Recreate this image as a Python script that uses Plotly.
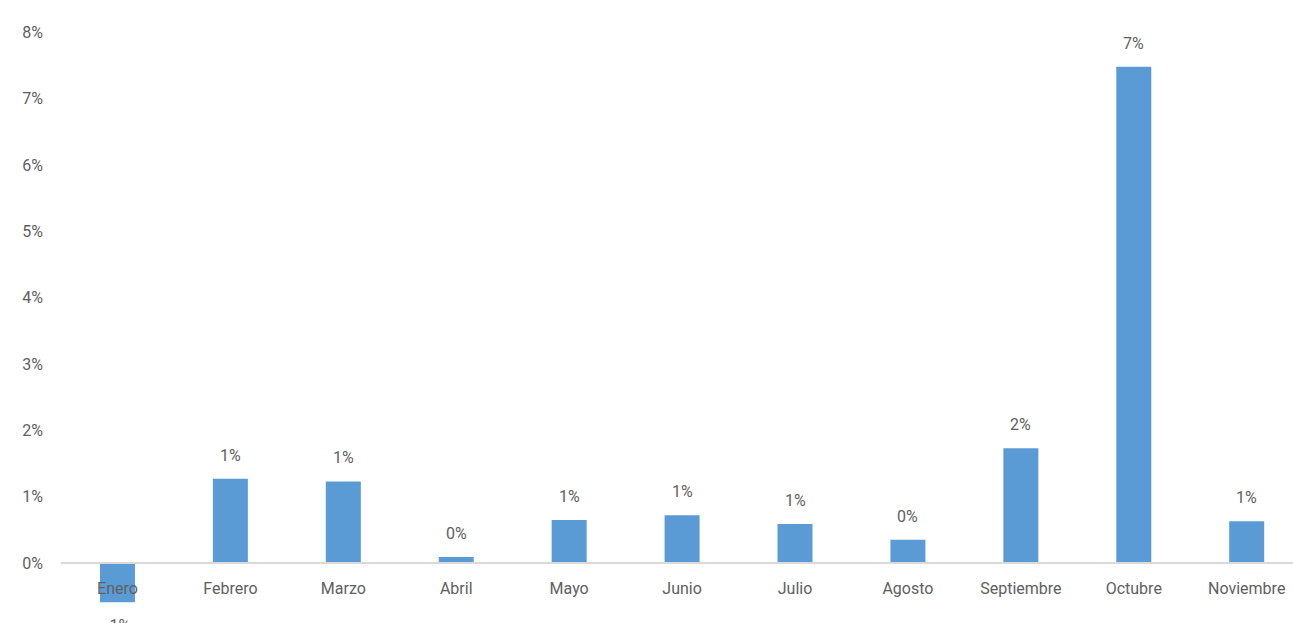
import plotly.graph_objects as go

months = ["Enero", "Febrero", "Marzo", "Abril", "Mayo", "Junio", "Julio",
          "Agosto", "Septiembre", "Octubre", "Noviembre"]
values = [-0.0059, 0.0127, 0.0123, 0.0009, 0.0065, 0.0072, 0.0059,
          0.0035, 0.0173, 0.0748, 0.0063]
y_ticks = [-0.01, 0.0, 0.01, 0.02, 0.03, 0.04, 0.05, 0.06, 0.07, 0.08]

BAR = "#5B9BD5"
TXT = "#606060"
FONT = "Roboto"
FS = 16

y_min, y_max = -0.011, 0.082
zero_pos = (0 - y_min) / (y_max - y_min)

fig = go.Figure()
fig.add_trace(go.Bar(
    x=months, y=values, marker=dict(color=BAR, line=dict(width=0)),
    hoverinfo="skip",
))

for m, v in zip(months, values):
    fig.add_annotation(
        x=m, y=v, text=f"{round(v*100):.0f}%", showarrow=False,
        yanchor="bottom" if v >= 0 else "top",
        yshift=12 if v >= 0 else -12,
        font=dict(family=FONT, size=FS, color=TXT),
    )

fig.update_layout(
    width=1293, height=650,
    margin=dict(l=61, r=0, t=19, b=14),
    plot_bgcolor="white", paper_bgcolor="white",
    bargap=0.69, showlegend=False,
    font=dict(family=FONT, size=FS, color=TXT),
)
fig.update_xaxes(
    range=[-0.5, 10.41], anchor="free", position=zero_pos,
    showline=True, linecolor="#D9D9D9", linewidth=2,
    showgrid=False, zeroline=False, ticks="",
    ticklabelstandoff=11,
    tickfont=dict(family=FONT, size=FS, color=TXT),
)
fig.update_yaxes(
    range=[y_min, y_max], tickvals=y_ticks, tickformat=".0%",
    showgrid=False, zeroline=False, showline=False, ticks="",
    ticklabelstandoff=17,
    tickfont=dict(family=FONT, size=FS, color=TXT),
)

fig.write_html(
    "out.html",
    config={"displayModeBar": False},
    post_script="document.body.style.margin='0';document.body.style.overflow='hidden';",
)
